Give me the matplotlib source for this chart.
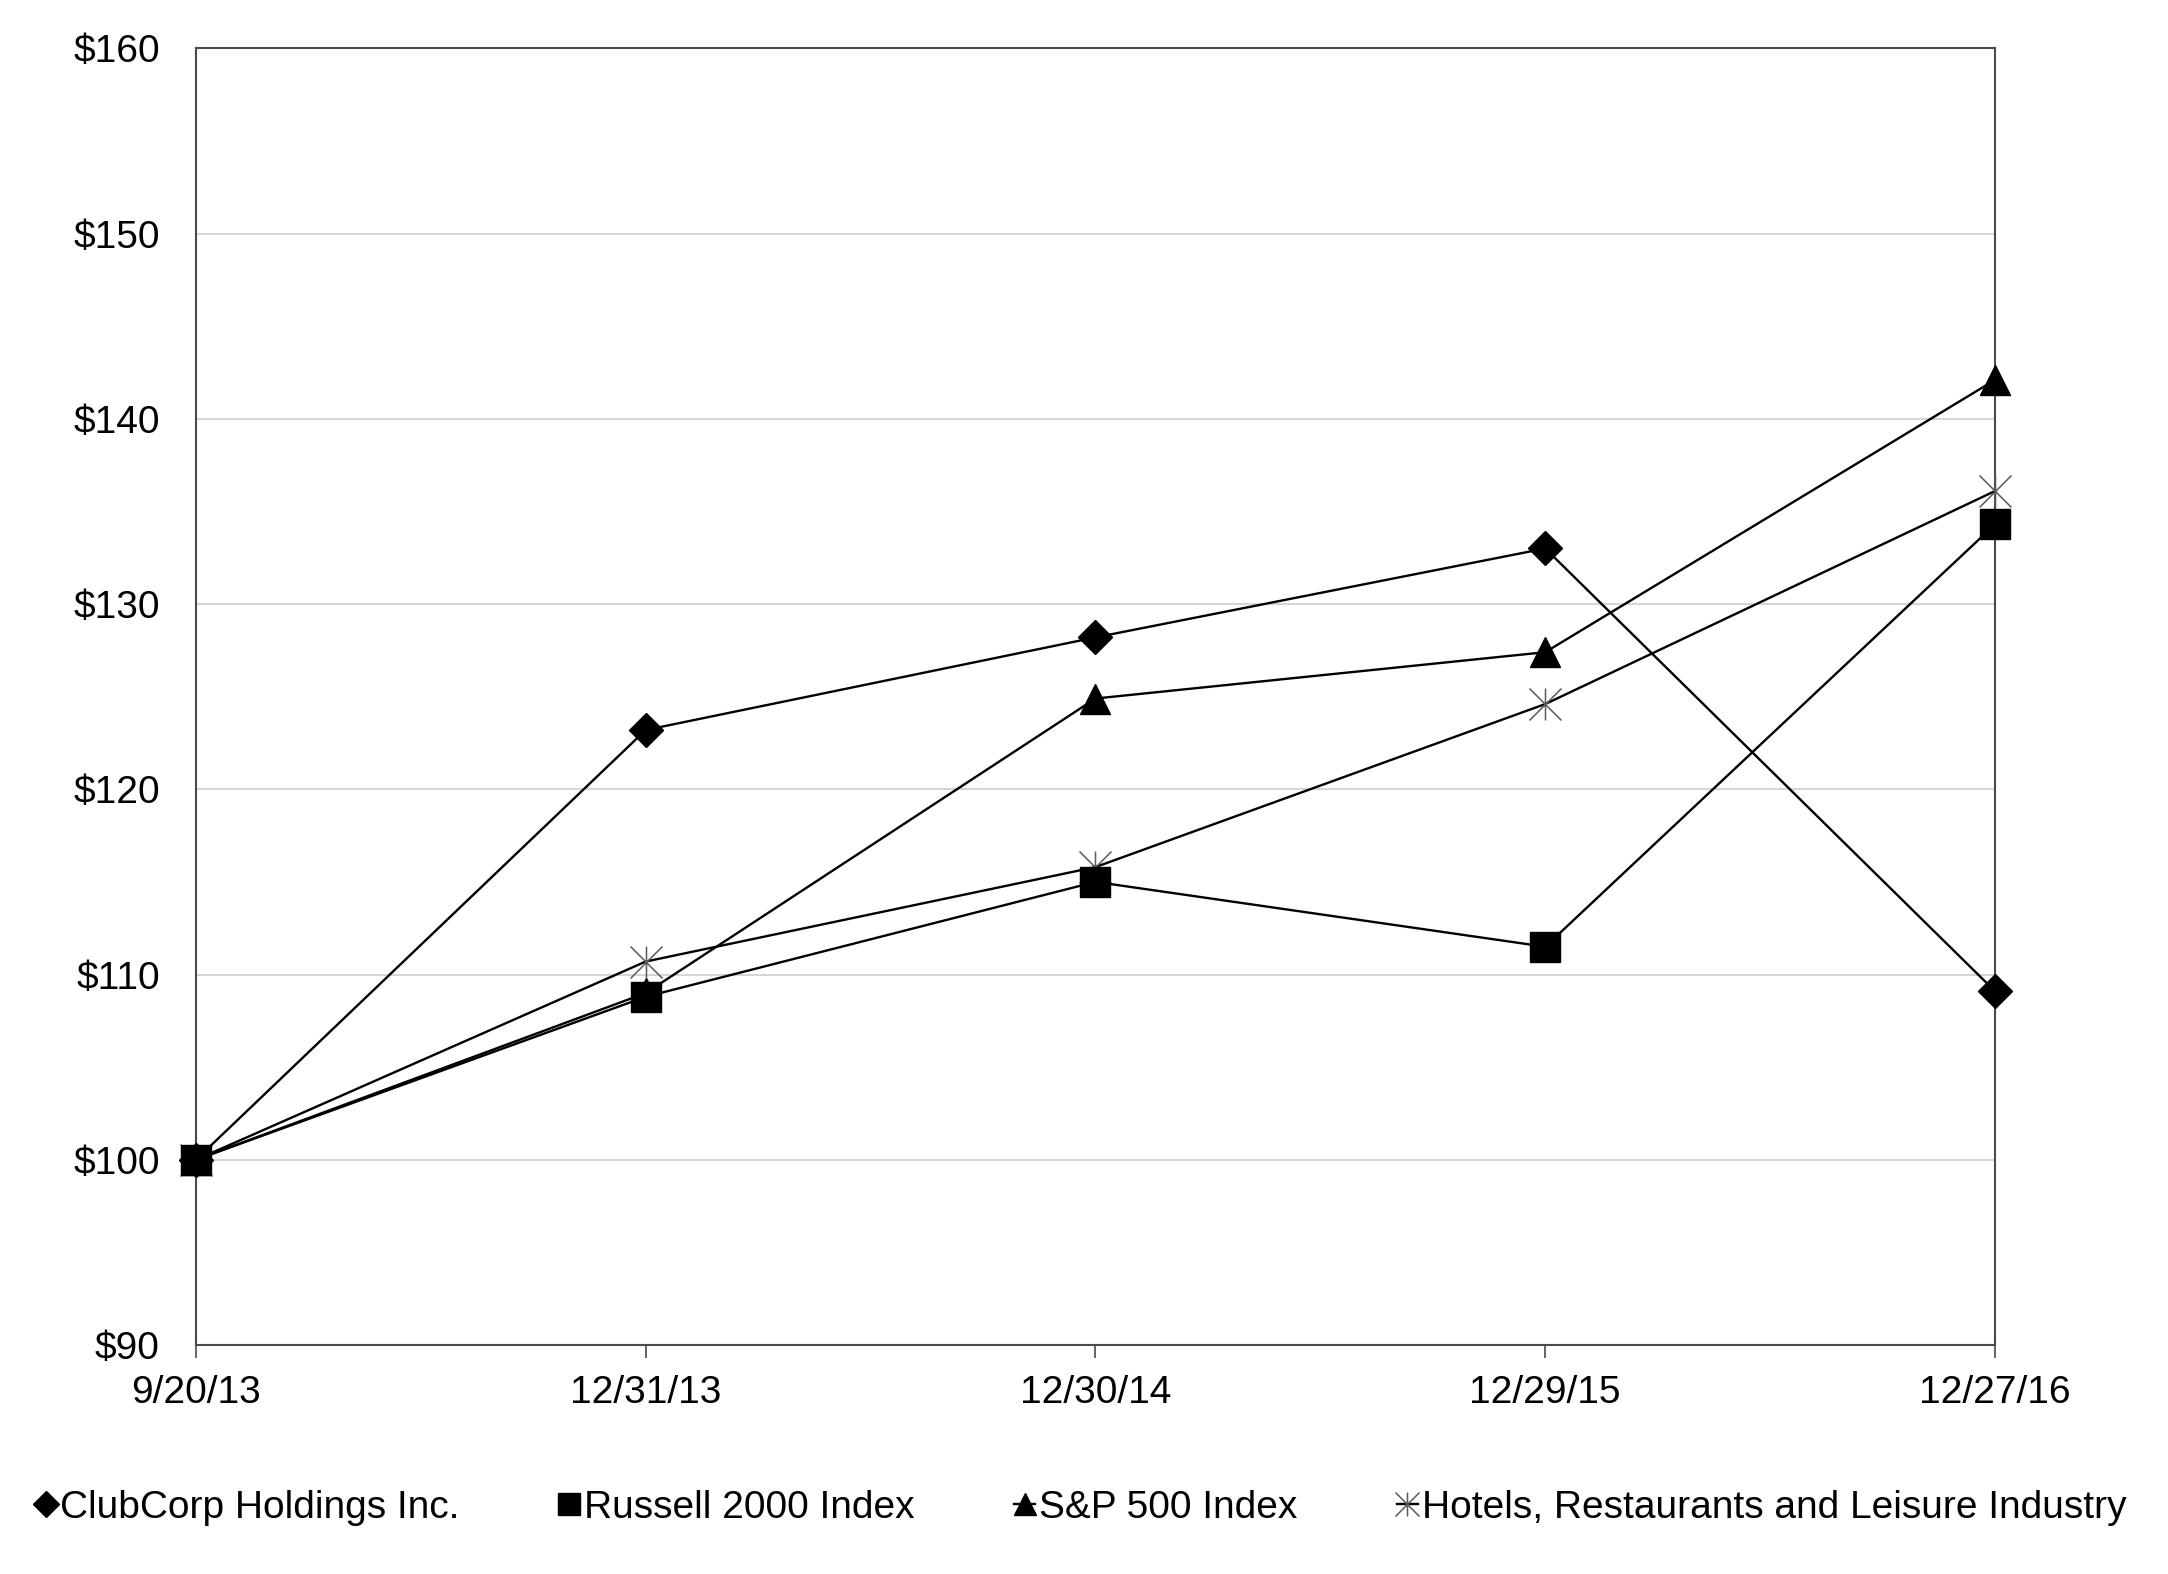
"""Cumulative total return chart: ClubCorp vs. indices."""

import matplotlib

matplotlib.use("Agg")
import matplotlib.pyplot as plt
from matplotlib.path import Path

plt.rcParams["font.family"] = ["Liberation Sans", "DejaVu Sans"]

DATES = ["9/20/13", "12/31/13", "12/30/14", "12/29/15", "12/27/16"]
CLUBCORP = [100.0, 123.2, 128.2, 133.0, 109.1]
RUSSELL_2000 = [100.0, 108.8, 115.0, 111.5, 134.3]
SP_500 = [100.0, 109.0, 124.9, 127.4, 142.1]
HOTELS = [100.0, 110.7, 115.8, 124.6, 136.1]

Y_TICKS = [90, 100, 110, 120, 130, 140, 150, 160]
Y_TICK_LABELS = [f"${v}" for v in Y_TICKS]

# six-armed asterisk like the spreadsheet "star" marker
ASTERISK = Path(
    [(0, -1), (0, 1), (-1, -1), (1, 1), (-1, 1), (1, -1)],
    [Path.MOVETO, Path.LINETO, Path.MOVETO, Path.LINETO, Path.MOVETO, Path.LINETO],
)


def main() -> None:
    fig = plt.figure(figsize=(21.68, 15.74), dpi=100)
    ax = fig.add_axes([0.0904, 0.1455, 0.8298, 0.8238])

    x = list(range(len(DATES)))
    line_kw = dict(color="black", lw=1.7, clip_on=False)

    h_hot, = ax.plot(
        x, HOTELS, marker=ASTERISK, ms=23, mec="#5a5a5a", mew=1.1,
        mfc="none", label="Hotels, Restaurants and Leisure Industry", zorder=3, **line_kw,
    )
    h_sp, = ax.plot(x, SP_500, marker="^", ms=21, mfc="black", mec="black",
                    label="S&P 500 Index", zorder=4, **line_kw)
    h_cc, = ax.plot(x, CLUBCORP, marker="D", ms=17.5, mfc="black", mec="black",
                    label="ClubCorp Holdings Inc.", zorder=5, **line_kw)
    h_ru, = ax.plot(x, RUSSELL_2000, marker="s", ms=21.5, mfc="black", mec="black",
                    label="Russell 2000 Index", zorder=6, **line_kw)

    ax.set_xlim(0, len(DATES) - 1)
    ax.set_ylim(Y_TICKS[0], Y_TICKS[-1])
    ax.set_xticks(x)
    ax.set_xticklabels(DATES)
    ax.set_yticks(Y_TICKS)
    ax.set_yticklabels(Y_TICK_LABELS)

    ax.yaxis.grid(True, color="#d2d2d2", lw=1.3)
    ax.set_axisbelow(True)
    for spine in ax.spines.values():
        spine.set_color("#4a4a4a")
        spine.set_linewidth(1.5)

    ax.tick_params(axis="y", length=0, pad=26, labelsize=28)
    ax.tick_params(axis="x", length=9.5, width=1.2, color="#4a4a4a", pad=12, labelsize=28)

    fig.legend(
        handles=[h_cc, h_ru, h_sp, h_hot],
        loc="center",
        bbox_to_anchor=(0.4985, 0.042),
        ncol=4,
        frameon=False,
        fontsize=28,
        markerscale=0.75,
        handlelength=0.55,
        handletextpad=0.1,
        columnspacing=2.55,
    )

    fig.savefig("out.png", dpi=100)
    plt.close(fig)


if __name__ == "__main__":
    main()
